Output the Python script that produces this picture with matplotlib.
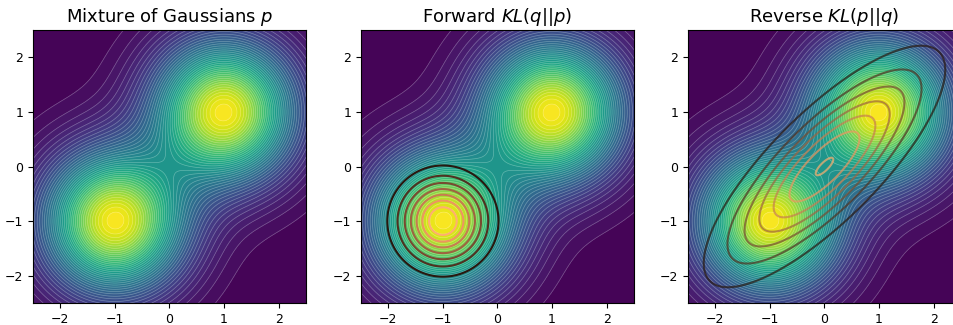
import numpy as np
import matplotlib
matplotlib.use("Agg")
import matplotlib.pyplot as plt

# mixture p: two equal-weight gaussians
p_weights = [0.5, 0.5]
p_means = [[-1.0, -1.0], [1.0, 1.0]]
p_covs = [[[0.75, 0.0], [0.0, 0.75]], [[0.75, 0.0], [0.0, 0.75]]]

# forward fit q (one mode)
qf_mean = [-1.0, -1.0]
qf_cov = [[0.25, 0.0], [0.0, 0.25]]

# reverse fit q (covers both modes)
qr_mean = [0.0, 0.0]
qr_cov = [[1.25, 1.0], [1.0, 1.25]]

titles = ["Mixture of Gaussians $p$", "Forward $KL(q||p)$", "Reverse $KL(p||q)$"]
ticks = [-2, -1, 0, 1, 2]
tick_labels = ["\u22122", "\u22121", "0", "1", "2"]
lim = 2.5


def gauss(X, Y, mean, cov):
    cov = np.array(cov)
    inv = np.linalg.inv(cov)
    dx = X - mean[0]
    dy = Y - mean[1]
    q = inv[0, 0] * dx * dx + 2 * inv[0, 1] * dx * dy + inv[1, 1] * dy * dy
    return np.exp(-0.5 * q) / (2 * np.pi * np.sqrt(np.linalg.det(cov)))


x = np.linspace(-lim, lim, 300)
X, Y = np.meshgrid(x, x)
P = sum(w * gauss(X, Y, m, c) for w, m, c in zip(p_weights, p_means, p_covs))
QF = gauss(X, Y, qf_mean, qf_cov)
QR = gauss(X, Y, qr_mean, qr_cov)

fig = plt.figure(figsize=(9.54, 3.25), dpi=100)
W, H = 954, 325
lefts = [33, 361, 688]
axes = [fig.add_axes([l / W, (H - 303) / H, 273 / W, 273 / H]) for l in lefts]

for i, ax in enumerate(axes):
    ax.contourf(X, Y, P, levels=50, cmap="viridis")
    ax.contour(X, Y, P, levels=50, colors="white", linewidths=0.5, alpha=0.3)
    if i == 1:
        ax.contour(X, Y, QF, cmap="copper", linewidths=1.5)
    if i == 2:
        ax.contour(X, Y, QR, cmap="copper", linewidths=1.5, alpha=0.7)
    ax.set_xlim(-lim, lim)
    ax.set_ylim(-lim, lim)
    ax.set_xticks(ticks)
    ax.set_yticks(ticks)
    ax.set_xticklabels(tick_labels)
    ax.set_yticklabels(tick_labels)
    ax.tick_params(labelsize=9)
    ax.set_title(titles[i], fontsize=13)

fig.savefig("out.png", dpi=100)
